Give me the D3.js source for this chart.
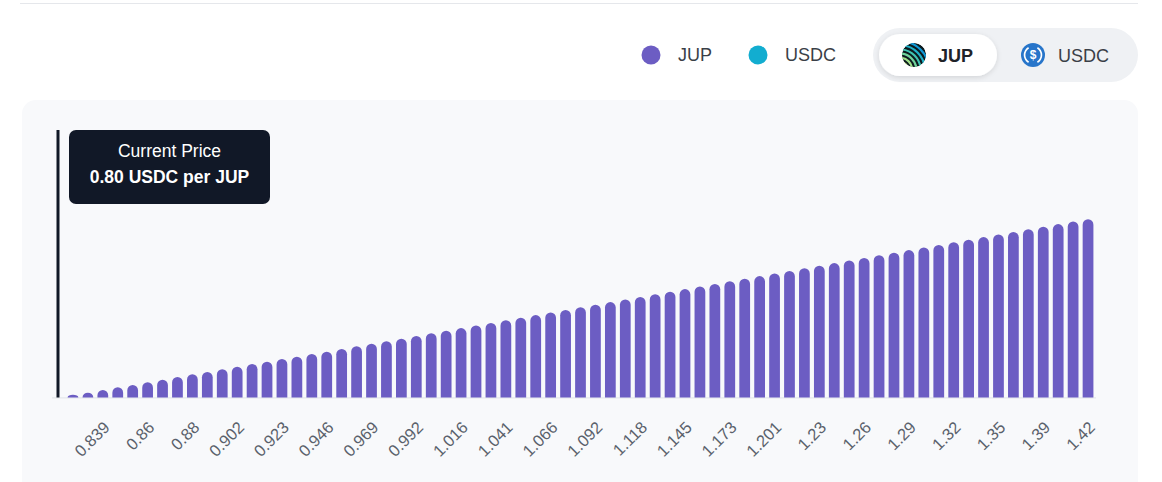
<!DOCTYPE html>
<html>
<head>
<meta charset="utf-8">
<script src="https://cdn.jsdelivr.net/npm/d3@7"></script>
<style>
  html, body { margin: 0; padding: 0; background: #ffffff; }
  svg { display: block; font-family: "Liberation Sans", Arial, Helvetica, sans-serif; }
</style>
</head>
<body>
<svg id="chart" width="1162" height="482"></svg>
<script>
// ---------- data ----------
const tickLabels = ["0.839","0.86","0.88","0.902","0.923","0.946","0.969","0.992","1.016","1.041","1.066","1.092","1.118","1.145","1.173","1.201","1.23","1.26","1.29","1.32","1.35","1.39","1.42"];
const liquidity = [
  2.7, 4.8, 7.5, 10.2, 12.5, 15.2, 17.8, 20.5, 23.2, 25.5,
  28.2, 30.8, 33.5, 35.8, 38.5, 40.8, 43.5, 45.8, 48.5, 51.2,
  53.8, 56.2, 58.8, 61.5, 64.2, 66.8, 69.4, 72.0, 74.6, 77.2,
  79.8, 82.4, 85.0, 87.6, 90.2, 92.8, 95.4, 98.0, 100.6, 103.2,
  105.8, 108.4, 111.0, 113.6, 116.2, 118.8, 121.4, 124.0, 126.6, 129.2,
  131.8, 134.4, 137.0, 139.6, 142.2, 144.8, 147.4, 150.0, 152.6, 155.2,
  157.8, 160.4, 163.0, 165.6, 168.2, 170.8, 173.4, 176.0, 178.2
];
const legendItems = ["JUP", "USDC"];
const toggleItems = ["JUP", "USDC"];
const currentPriceTitle = "Current Price";
const currentPriceText = "0.80 USDC per JUP";
const tickOffset = 2;   // first labelled bin
const tickEvery = 3;    // label every 3rd bin

// ---------- styles ----------
const C = {
  purple: "#6c5dc3",
  cyan: "#12add0",
  panel: "#f8f9fb",
  dark: "#111827",
  text: "#3a3f47",
  tick: "#5a616b",
  grid: "#e5e7eb",
  toggleBg: "#eff1f4"
};

const svg = d3.select("#chart");
const defs = svg.append("defs");

// top rule
svg.append("line").attr("x1", 20).attr("x2", 1138).attr("y1", 3.5).attr("y2", 3.5)
  .attr("stroke", C.grid).attr("stroke-width", 1.2);

// ---------- legend ----------
const legendColors = d3.scaleOrdinal().domain(legendItems).range([C.purple, C.cyan]);
const legendX = d3.scalePoint().domain(legendItems).range([651, 758]);
const lg = svg.append("g").selectAll("g").data(legendItems).join("g")
  .attr("transform", d => `translate(${legendX(d)},55)`);
lg.append("circle").attr("r", 9.5).attr("fill", d => legendColors(d));
lg.append("text").attr("x", 27).attr("y", 6.3).attr("font-size", 18).attr("fill", C.text).text(d => d);

// ---------- toggle ----------
const filt = defs.append("filter").attr("id", "sh").attr("x", "-20%").attr("y", "-40%").attr("width", "140%").attr("height", "180%");
filt.append("feDropShadow").attr("dx", 0).attr("dy", 1.5).attr("stdDeviation", 2.5).attr("flood-color", "#000").attr("flood-opacity", 0.12);

const tg = svg.append("g");
tg.append("rect").attr("x", 873).attr("y", 28).attr("width", 265).attr("height", 54).attr("rx", 27).attr("fill", C.toggleBg);
tg.append("rect").attr("x", 879).attr("y", 34).attr("width", 118).attr("height", 42).attr("rx", 21).attr("fill", "#fff").attr("filter", "url(#sh)");

// JUP icon
const jupClip = defs.append("clipPath").attr("id", "jupclip");
jupClip.append("circle").attr("cx", 914).attr("cy", 55).attr("r", 12);
const jg = tg.append("g").attr("clip-path", "url(#jupclip)");
jg.append("circle").attr("cx", 914).attr("cy", 55).attr("r", 12).attr("fill", "#0c1a1e");
const stripeColors = ["#c8ef7e", "#9fe08a", "#6fd29b", "#3fc3b0", "#1fb1c8", "#1198d6"];
stripeColors.forEach((col, i) => {
  jg.append("circle").attr("cx", 900).attr("cy", 70).attr("r", 8 + i * 4.2)
    .attr("fill", "none").attr("stroke", col).attr("stroke-width", 2.2);
});
tg.append("text").attr("x", 938).attr("y", 61.5).attr("font-size", 18).attr("font-weight", "bold").attr("fill", "#1f2329").text(toggleItems[0]);

// USDC icon
const ug = tg.append("g").attr("transform", "translate(1033,55)");
ug.append("circle").attr("r", 12).attr("fill", "#2775ca");
const arcGen = d3.arc().innerRadius(7.6).outerRadius(9.3);
ug.append("path").attr("d", arcGen({ startAngle: 0.55, endAngle: Math.PI - 0.55 })).attr("fill", "#fff");
ug.append("path").attr("d", arcGen({ startAngle: Math.PI + 0.55, endAngle: 2 * Math.PI - 0.55 })).attr("fill", "#fff");
ug.append("text").attr("text-anchor", "middle").attr("y", 4.2).attr("font-size", 12).attr("font-weight", "bold").attr("fill", "#fff").text("$");
tg.append("text").attr("x", 1058).attr("y", 61.5).attr("font-size", 18).attr("fill", C.text).text(toggleItems[1]);

// ---------- panel ----------
svg.append("rect").attr("x", 22).attr("y", 100).attr("width", 1116).attr("height", 420).attr("rx", 14).attr("fill", C.panel);

// ---------- scales ----------
const baseY = 397.5;
const x = d3.scaleBand().domain(d3.range(liquidity.length)).range([65.5, 1095.5]).paddingInner(0.28).paddingOuter(0.14);
const y = d3.scaleLinear().domain([0, 180]).range([baseY, baseY - 180]);

// baseline
svg.append("line").attr("x1", 52).attr("x2", 1096).attr("y1", baseY + 0.3).attr("y2", baseY + 0.3)
  .attr("stroke", C.grid).attr("stroke-width", 1.2);

// bars with rounded tops
const bw = x.bandwidth();
function barPath(i, v) {
  const x0 = x(i), x1 = x0 + bw, yb = y(0), yt = y(v);
  const h = yb - yt;
  const r = Math.min(bw / 2, h);
  return `M${x0},${yb} L${x0},${yt + r} A${bw / 2},${r} 0 0 1 ${x0 + bw / 2},${yt} A${bw / 2},${r} 0 0 1 ${x1},${yt + r} L${x1},${yb} Z`;
}
svg.append("g").selectAll("path").data(liquidity).join("path")
  .attr("d", (v, i) => barPath(i, v)).attr("fill", C.purple);

// x tick labels
const tickData = tickLabels.map((t, k) => ({ t, i: tickOffset + k * tickEvery }));
svg.append("g").selectAll("text").data(tickData).join("text")
  .attr("transform", d => `translate(${x(d.i) + bw / 2 + 8},${baseY + 31}) rotate(-45)`)
  .attr("text-anchor", "end")
  .attr("font-size", 16.5)
  .attr("fill", C.tick)
  .text(d => d.t);

// ---------- current price marker ----------
const lineX = x.range()[0] - 7.5;
svg.append("line").attr("x1", lineX).attr("x2", lineX).attr("y1", 130).attr("y2", baseY)
  .attr("stroke", C.dark).attr("stroke-width", 3);
const tip = svg.append("g");
tip.append("rect").attr("x", lineX + 11).attr("y", 130).attr("width", 201).attr("height", 74).attr("rx", 7).attr("fill", C.dark);
tip.append("text").attr("x", lineX + 111.5).attr("y", 157).attr("text-anchor", "middle")
  .attr("font-size", 17.5).attr("fill", "#fff").text(currentPriceTitle);
tip.append("text").attr("x", lineX + 111.5).attr("y", 182.5).attr("text-anchor", "middle")
  .attr("font-size", 17.5).attr("font-weight", "bold").attr("fill", "#fff").text(currentPriceText);
</script>
</body>
</html>
